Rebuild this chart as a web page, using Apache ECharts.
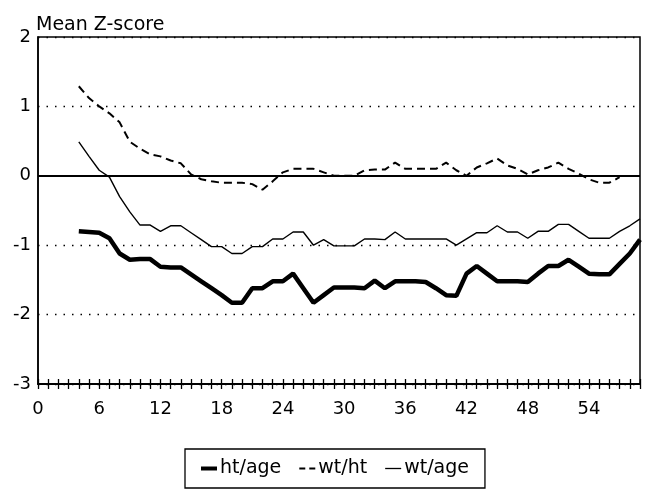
<!DOCTYPE html>
<html>
<head>
<meta charset="utf-8">
<script src="https://cdn.jsdelivr.net/npm/echarts@6/dist/echarts.min.js"></script>
<style>
  html, body { margin: 0; padding: 0; background: #fff; }
  #chart { width: 649px; height: 499px; }
</style>
</head>
<body>
<div id="chart"></div>
<script>
// Age in months for each observation
const monthsAll = [4,5,6,7,8,9,10,11,12,13,14,15,16,17,18,19,20,21,22,23,24,25,26,27,28,29,30,31,
  32,33,34,35,36,37,38,39,40,41,42,43,44,45,46,47,48,49,50,51,52,53,54,55,56,57,58,59];
const monthsWtHt = [4,5,6,7,8,9,10,11,12,13,14,15,16,17,18,19,20,21,22,23,24,25,26,27,28,29,30,31,
  32,33,34,35,36,37,38,39,40,41,42,43,44,45,46,47,48,49,50,51,52,53,54,55,56,57];

// Mean Z-scores by month of age
const htAge = [-0.80,-0.81,-0.82,-0.90,-1.12,-1.21,-1.20,-1.20,-1.31,-1.32,-1.32,-1.42,-1.52,-1.62,
  -1.72,-1.83,-1.83,-1.62,-1.62,-1.52,-1.52,-1.41,-1.62,-1.83,-1.72,-1.61,-1.61,-1.61,-1.62,-1.51,
  -1.62,-1.52,-1.52,-1.52,-1.53,-1.62,-1.72,-1.73,-1.41,-1.30,-1.41,-1.52,-1.52,-1.52,-1.53,-1.41,
  -1.30,-1.30,-1.21,-1.31,-1.41,-1.42,-1.42,-1.27,-1.12,-0.92];
const wtHt = [1.29,1.12,1.00,0.90,0.77,0.49,0.39,0.31,0.28,0.22,0.18,0.02,-0.05,-0.08,-0.10,-0.10,
  -0.10,-0.12,-0.20,-0.08,0.05,0.10,0.10,0.10,0.05,0.00,0.00,0.00,0.08,0.09,0.09,0.19,0.10,0.10,
  0.10,0.10,0.19,0.08,0.00,0.12,0.18,0.25,0.15,0.10,0.02,0.08,0.12,0.19,0.10,0.03,-0.05,-0.10,
  -0.10,-0.02];
const wtAge = [0.49,0.28,0.08,-0.02,-0.30,-0.52,-0.71,-0.71,-0.80,-0.72,-0.72,-0.82,-0.92,-1.02,
  -1.02,-1.12,-1.12,-1.02,-1.02,-0.91,-0.91,-0.81,-0.81,-1.00,-0.92,-1.01,-1.01,-1.01,-0.91,-0.91,
  -0.92,-0.81,-0.91,-0.91,-0.91,-0.91,-0.91,-1.00,-0.91,-0.82,-0.82,-0.72,-0.81,-0.81,-0.90,-0.80,
  -0.80,-0.70,-0.70,-0.80,-0.90,-0.90,-0.90,-0.80,-0.72,-0.62];

// Axis settings
const xMin = 0, xMax = 59, xLabelStep = 6;
const yMin = -3, yMax = 2;

const pair = (xs, ys) => xs.map((m, i) => [m, ys[i]]);
const FONT = 'DejaVu Sans';

// Legend keys: short line samples (solid thick, dashed, solid thin)
const ICON_THICK = 'path://M0,0 L14,0 L14,3.5 L0,3.5 Z';
const ICON_DASH = 'path://M0,0 L6,0 L6,1.8 L0,1.8 Z M10,0 L16,0 L16,1.8 L10,1.8 Z';
const ICON_THIN = 'path://M0,0 L16,0 L16,1.3 L0,1.3 Z';

// Dotted gridlines at -3..2; the one at 0 is left out (a solid reference line is drawn there)
const gridColors = ['#000', '#000', '#000', 'rgba(0,0,0,0)', '#000', '#000'];

const chart = echarts.init(document.getElementById('chart'), null, { renderer: 'canvas' });
chart.setOption({
  animation: false,
  backgroundColor: '#fff',
  title: {
    text: 'Mean Z-score',
    left: 31, top: 11,
    textStyle: { fontFamily: FONT, fontSize: 19, fontWeight: 'normal', color: '#000' }
  },
  grid: {
    left: 38, right: 9, top: 37, bottom: 115,
    show: true, borderColor: '#000', borderWidth: 1.5, backgroundColor: 'transparent'
  },
  legend: {
    data: [
      { name: 'ht/age', icon: ICON_THICK },
      { name: 'wt/ht', icon: ICON_DASH },
      { name: 'wt/age', icon: ICON_THIN }
    ],
    left: 185, top: 449,
    padding: [10, 16, 10, 16],
    itemGap: 18, itemWidth: 16, itemHeight: 12,
    symbolKeepAspect: true,
    borderColor: '#000', borderWidth: 1.3, borderRadius: 0,
    textStyle: { fontFamily: FONT, fontSize: 19, color: '#000', padding: [0, 0, 0, -2] }
  },
  xAxis: [{
    type: 'value', min: xMin, max: xMax, interval: 1,
    axisLine: { show: true, onZero: false, lineStyle: { color: '#000', width: 2 } },
    axisTick: { show: true, length: 5, lineStyle: { color: '#000', width: 1.3 } },
    axisLabel: {
      fontFamily: FONT, fontSize: 18, color: '#000', margin: 16,
      formatter: v => (v % xLabelStep === 0 ? String(v) : '')
    },
    splitLine: { show: false }
  }, {
    // upper half of the crossing month ticks
    type: 'value', min: xMin, max: xMax, interval: 1, position: 'bottom', offset: 0,
    axisLine: { show: false, onZero: false },
    axisTick: { show: true, inside: true, length: 5, lineStyle: { color: '#000', width: 1.3 } },
    axisLabel: { show: false },
    splitLine: { show: false }
  }],
  yAxis: {
    type: 'value', min: yMin, max: yMax, interval: 1,
    axisLine: { show: true, lineStyle: { color: '#000', width: 1.5 } },
    axisTick: { show: false },
    axisLabel: { fontFamily: FONT, fontSize: 18, color: '#000', margin: 7 },
    splitLine: { show: true, lineStyle: { color: gridColors, width: 1.4, type: [1.5, 7] } }
  },
  series: [{
    name: 'ht/age', type: 'line', data: pair(monthsAll, htAge),
    symbol: 'none', lineStyle: { color: '#000', width: 4.5 }, itemStyle: { color: '#000' }
  }, {
    name: 'wt/ht', type: 'line', data: pair(monthsWtHt, wtHt),
    symbol: 'none', lineStyle: { color: '#000', width: 2, type: [8, 5] }, itemStyle: { color: '#000' }
  }, {
    name: 'wt/age', type: 'line', data: pair(monthsAll, wtAge),
    symbol: 'none', lineStyle: { color: '#000', width: 1.4 }, itemStyle: { color: '#000' },
    markLine: {
      silent: true, symbol: ['none', 'none'], label: { show: false },
      lineStyle: { color: '#000', width: 1.8, type: 'solid' },
      data: [{ yAxis: 0 }]
    }
  }]
});
</script>
</body>
</html>
